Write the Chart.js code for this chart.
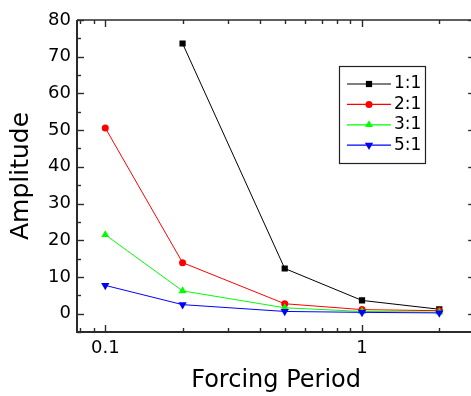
<!DOCTYPE html>
<html>
<head>
<meta charset="utf-8">
<script src="https://cdn.jsdelivr.net/npm/chart.js@4.4.1/dist/chart.umd.min.js"></script>
<style>
  html, body { margin: 0; padding: 0; background: #fff; overflow: hidden; }
  #wrap { width: 471px; height: 396px; overflow: hidden; }
  canvas { display: block; }
</style>
</head>
<body>
<div id="wrap"><canvas id="chart" width="480" height="396"></canvas></div>
<script>
// Forcing period (x) and response amplitude for each ratio
const periods  = [0.1, 0.2, 0.5, 1, 2];
const ratio11  = [null, 73.6, 12.3, 3.6, 1.2];
const ratio21  = [50.6, 13.9, 2.7, 1.1, 0.8];
const ratio31  = [21.5, 6.2, 1.6, 0.6, 0.4];
const ratio51  = [7.7, 2.45, 0.6, 0.35, 0.2];
const seriesNames = ['1:1', '2:1', '3:1', '5:1'];

// Axis ticks
const xTickValues = [0.1, 1];
const xTickLabels = ['0.1', '1'];
const xMinorTicks = [0.08, 0.09, 0.2, 0.3, 0.4, 0.5, 0.6, 0.7, 0.8, 0.9, 2];
const yTickValues = [0, 10, 20, 30, 40, 50, 60, 70, 80];
const yMinorTicks = [-5, 5, 15, 25, 35, 45, 55, 65, 75];

const axisColor = '#2b2b2b';
const FONT = 'DejaVu Sans';

function toPoints(values) {
  return periods.map((p, i) => ({ x: p, y: values[i] })).filter(pt => pt.y !== null);
}

const styles = [
  { color: '#000000', pointStyle: 'rect',     radius: 4.4, rotation: 0 },
  { color: '#ff0000', pointStyle: 'circle',   radius: 3.5, rotation: 0 },
  { color: '#00ff00', pointStyle: 'triangle', radius: 4.6, rotation: 0 },
  { color: '#0000ff', pointStyle: 'triangle', radius: 4.8, rotation: 180 }
];
const allSeries = [ratio11, ratio21, ratio31, ratio51];

const datasets = allSeries.map((vals, i) => ({
  label: seriesNames[i],
  data: toPoints(vals),
  showLine: true,
  borderColor: styles[i].color,
  backgroundColor: styles[i].color,
  borderWidth: 1,
  pointStyle: styles[i].pointStyle,
  pointRadius: styles[i].radius,
  pointRotation: styles[i].rotation,
  pointBorderWidth: 0,
  pointBackgroundColor: styles[i].color,
  order: allSeries.length - i
}));

// Box frame with inward ticks on all four sides
const framePlugin = {
  id: 'frame',
  afterDatasetsDraw(chart) {
    const { ctx, chartArea: a, scales: { x, y } } = chart;
    ctx.save();
    ctx.strokeStyle = axisColor;
    ctx.lineWidth = 2;
    ctx.beginPath();
    ctx.moveTo(a.left, a.top); ctx.lineTo(a.left, a.bottom);
    ctx.moveTo(a.left - 1, a.bottom); ctx.lineTo(a.right, a.bottom);
    ctx.stroke();
    ctx.lineWidth = 1.5;
    ctx.beginPath();
    ctx.moveTo(a.left, a.top); ctx.lineTo(a.right, a.top);
    ctx.moveTo(a.right, a.top); ctx.lineTo(a.right, a.bottom);
    ctx.stroke();

    ctx.lineWidth = 1.4;
    const seg = (x1, y1, x2, y2) => { ctx.beginPath(); ctx.moveTo(x1, y1); ctx.lineTo(x2, y2); ctx.stroke(); };
    const yTicks = (vals, len) => vals.forEach(v => {
      const py = Math.round(y.getPixelForValue(v)) + 0.5;
      seg(a.left, py, a.left + len, py);
      seg(a.right, py, a.right - len, py);
    });
    const xTicks = (vals, len) => vals.forEach(v => {
      const px = Math.round(x.getPixelForValue(v)) + 0.5;
      seg(px, a.bottom, px, a.bottom - len);
      seg(px, a.top, px, a.top + len);
    });
    yTicks(yTickValues, 7);
    yTicks(yMinorTicks, 4);
    xTicks(xTickValues, 7);
    xTicks(xMinorTicks, 4);
    ctx.restore();
  }
};

// Legend box inside the plot
const legendPlugin = {
  id: 'boxLegend',
  afterDraw(chart) {
    const { ctx } = chart;
    const bx = 339.5, by = 66.5, bw = 86, bh = 97;
    ctx.save();
    ctx.fillStyle = '#ffffff';
    ctx.fillRect(bx, by, bw, bh);
    ctx.strokeStyle = '#222222';
    ctx.lineWidth = 1.2;
    ctx.strokeRect(bx, by, bw, bh);
    chart.data.datasets.forEach((ds, i) => {
      const cy = 84 + i * 20.4;
      ctx.strokeStyle = ds.borderColor;
      ctx.lineWidth = 1.2;
      ctx.beginPath();
      ctx.moveTo(347, cy); ctx.lineTo(391, cy);
      ctx.stroke();
      ctx.fillStyle = ds.pointBackgroundColor;
      Chart.helpers.drawPoint(ctx, {
        pointStyle: ds.pointStyle,
        radius: ds.pointRadius,
        rotation: ds.pointRotation,
        borderWidth: 0
      }, 369, cy);
      ctx.fillStyle = '#000000';
      ctx.font = '17px "' + FONT + '"';
      ctx.textAlign = 'left';
      ctx.textBaseline = 'middle';
      ctx.fillText(ds.label, 394, cy);
    });
    ctx.restore();
  }
};

new Chart(document.getElementById('chart'), {
  type: 'scatter',
  data: { datasets },
  options: {
    responsive: false,
    devicePixelRatio: 1,
    animation: false,
    events: [],
    layout: { padding: { top: 20, right: 3, left: 0, bottom: 0 } },
    plugins: { legend: { display: false }, tooltip: { enabled: false } },
    scales: {
      x: {
        type: 'logarithmic',
        min: 0.0776,
        max: 2.76,
        grid: { display: false, drawTicks: false },
        border: { display: false },
        afterBuildTicks(scale) { scale.ticks = xTickValues.map(v => ({ value: v })); },
        afterFit(scale) { scale.height = 64; },
        ticks: {
          padding: 6,
          color: '#000',
          maxRotation: 0,
          autoSkip: false,
          font: { family: FONT, size: 18 },
          callback: (v, i) => xTickLabels[i]
        },
        title: {
          display: true,
          text: 'Forcing Period',
          color: '#000',
          font: { family: FONT, size: 24 },
          padding: { top: 0, bottom: 1 }
        }
      },
      y: {
        type: 'linear',
        min: -5,
        max: 80,
        grid: { display: false, drawTicks: false },
        border: { display: false },
        afterBuildTicks(scale) { scale.ticks = yTickValues.map(v => ({ value: v })); },
        afterFit(scale) { scale.width = 77; },
        ticks: {
          padding: 6,
          color: '#000',
          font: { family: FONT, size: 18 },
          callback: v => String(v)
        },
        title: {
          display: true,
          text: 'Amplitude',
          color: '#000',
          font: { family: FONT, size: 25 },
          padding: { top: 6, bottom: 0 }
        }
      }
    }
  },
  plugins: [framePlugin, legendPlugin]
});
</script>
</body>
</html>
